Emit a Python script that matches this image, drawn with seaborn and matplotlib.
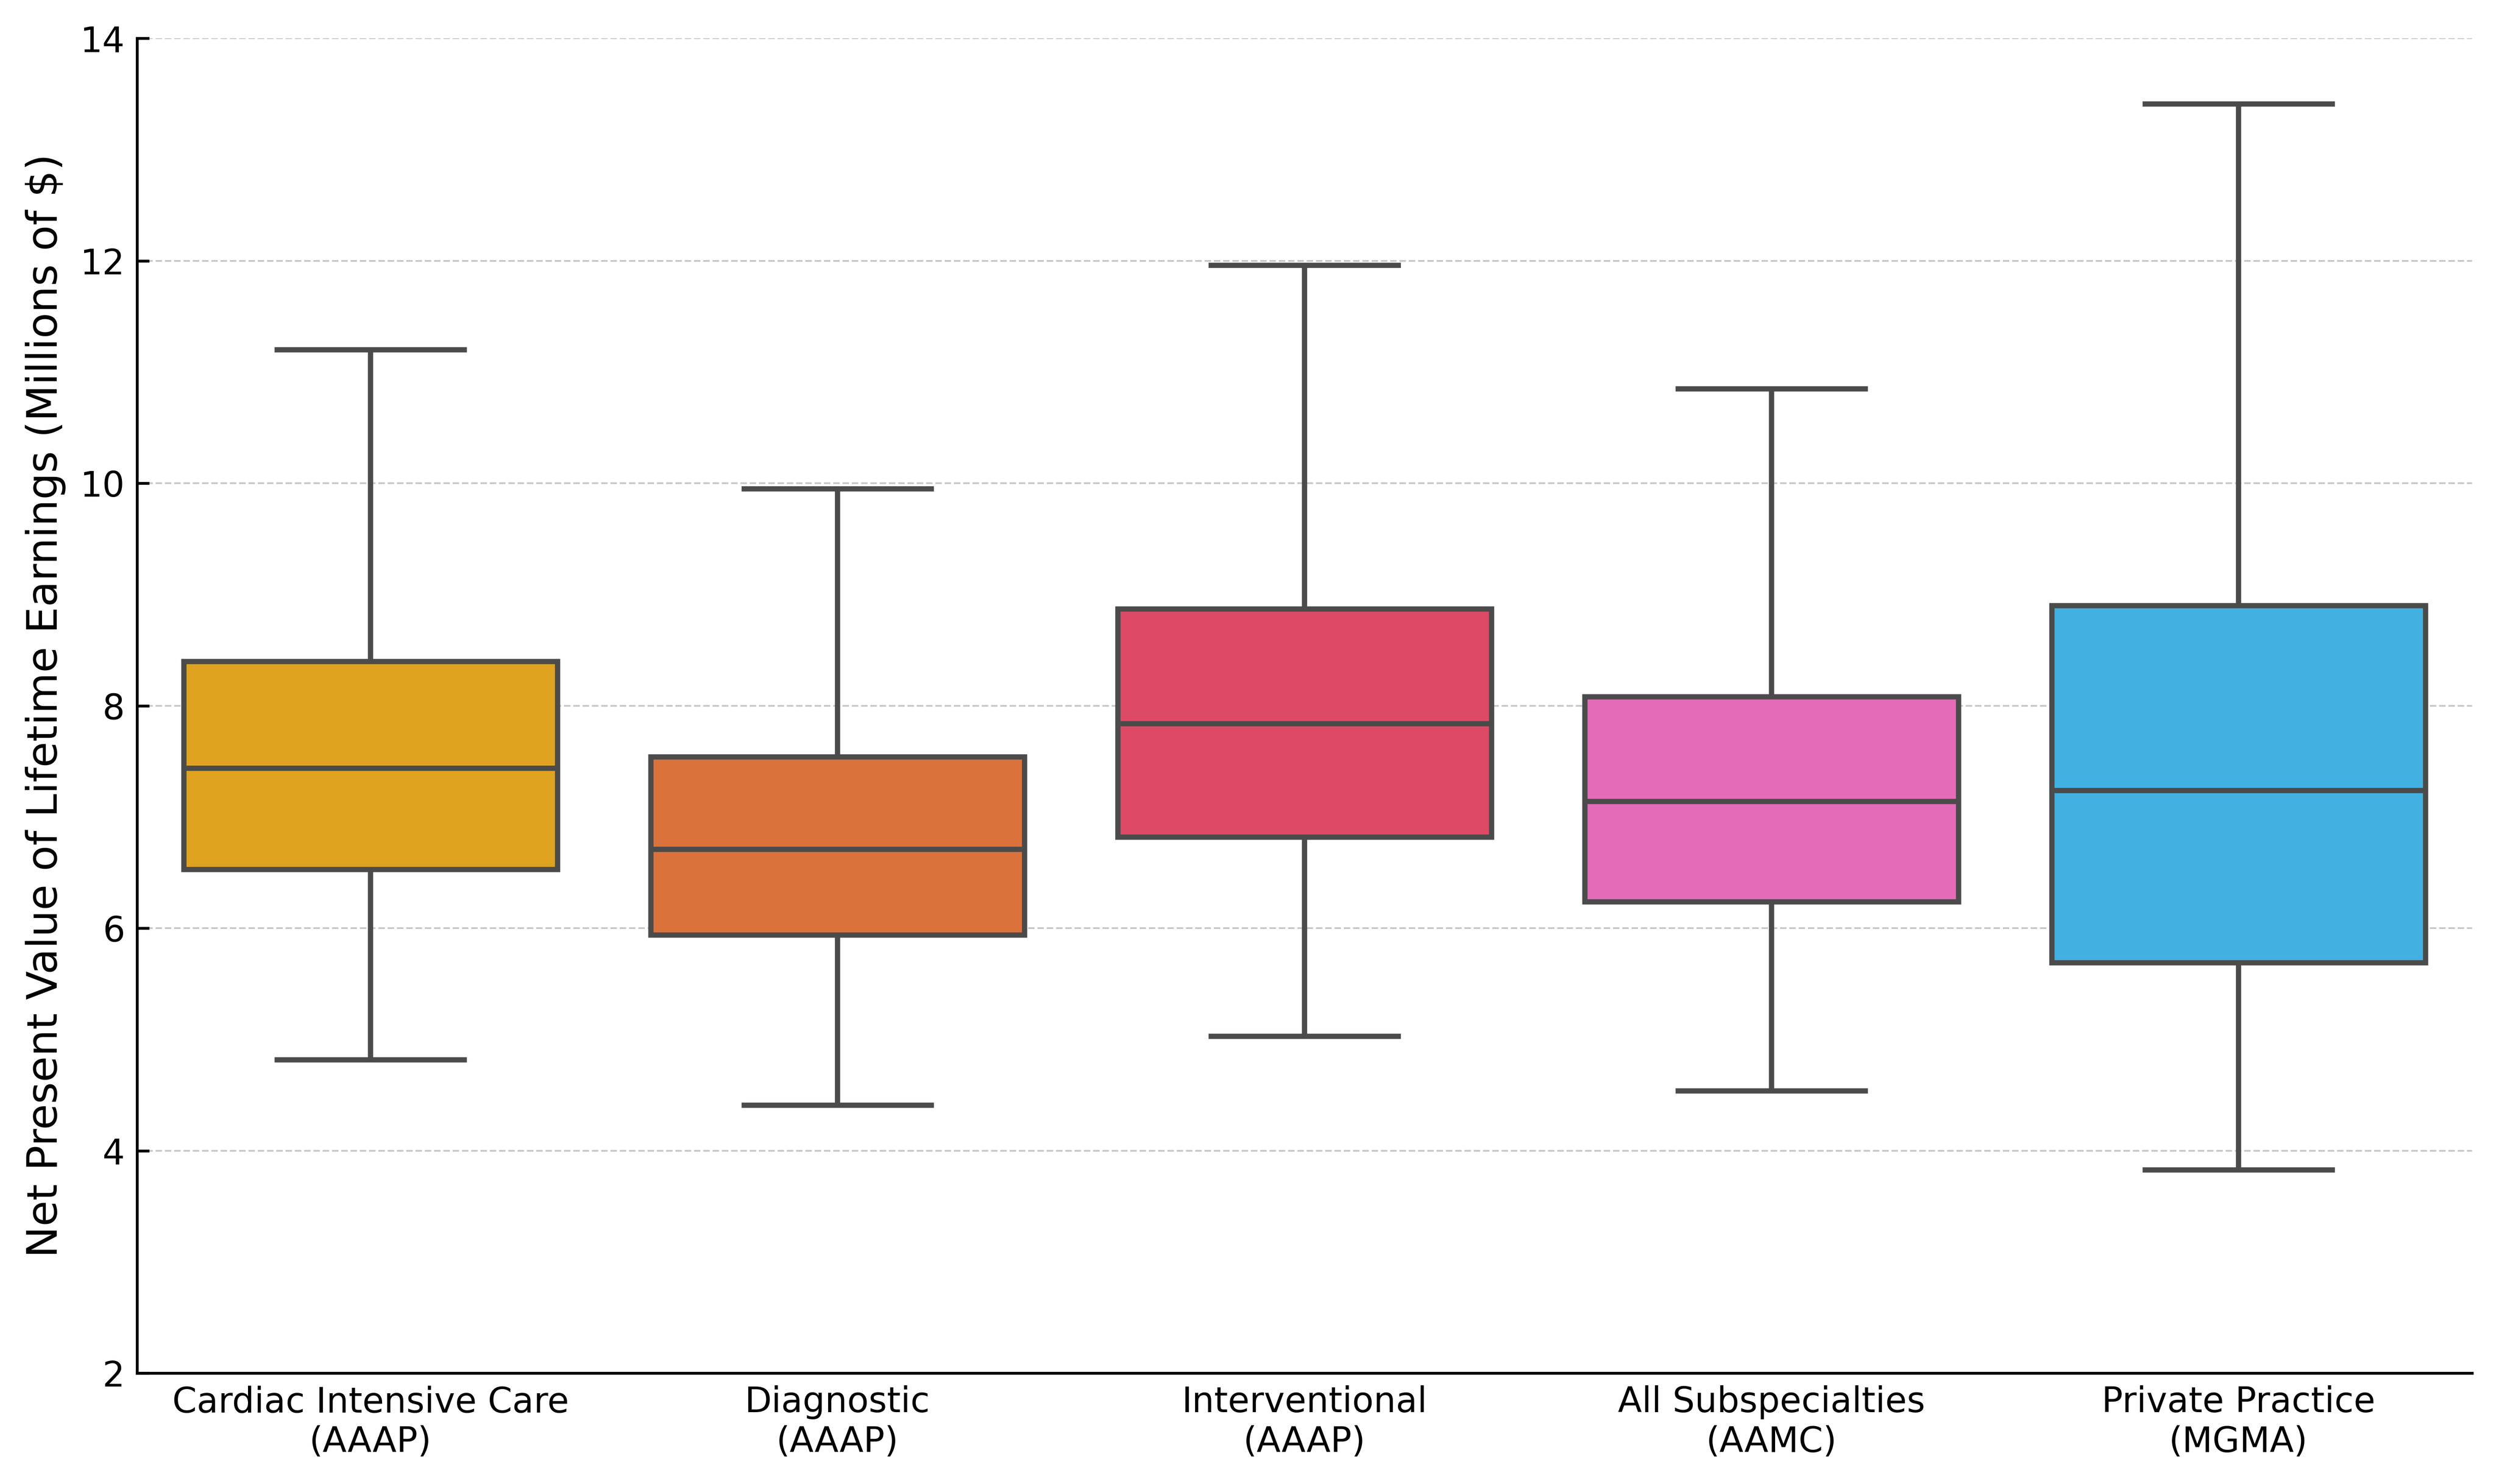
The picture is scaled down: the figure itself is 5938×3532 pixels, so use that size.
import numpy as np
import pandas as pd
import seaborn as sns
import matplotlib.pyplot as plt

categories = ["Cardiac Intensive Care\n(AAAP)", "Diagnostic\n(AAAP)", "Interventional\n(AAAP)",
              "All Subspecialties\n(AAMC)", "Private Practice\n(MGMA)"]

# five-number summaries (millions of $)
mins = [4.82, 4.41, 5.03, 4.54, 3.83]
q1s = [6.53, 5.94, 6.82, 6.24, 5.69]
medians = [7.44, 6.71, 7.84, 7.14, 7.24]
q3s = [8.40, 7.54, 8.87, 8.08, 8.90]
maxs = [11.20, 9.95, 11.96, 10.85, 13.41]

colors = ["#DFA321", "#DB723B", "#DD4A66", "#E46BB8", "#42B0E0"]

rows = []
for i, cat in enumerate(categories):
    for v in [mins[i], q1s[i], medians[i], q3s[i], maxs[i]]:
        rows.append({"group": cat, "value": v})
df = pd.DataFrame(rows)

fig, ax = plt.subplots(figsize=(5938 / 600, 3532 / 600), dpi=600)
fig.subplots_adjust(left=0.0549, right=0.9904, top=0.9742, bottom=0.0747)

sns.boxplot(data=df, x="group", y="value", hue="group", palette=colors, saturation=1,
            whis=np.inf, width=0.8, linewidth=1.5, linecolor="#4b4b4b", legend=False, ax=ax)

ax.set_ylim(2, 14)
ax.set_yticks([2, 4, 6, 8, 10, 12, 14])
ax.set_xlabel("")
ax.set_ylabel("Net Present Value of Lifetime Earnings (Millions of $)", fontsize=12)
ax.grid(axis="y", linestyle="--", linewidth=0.5, alpha=0.7)
ax.spines["top"].set_visible(False)
ax.spines["right"].set_visible(False)
ax.tick_params(axis="y", direction="in", labelsize=10)
ax.tick_params(axis="x", length=0, labelsize=10)

plt.savefig("out.png", dpi=600)
